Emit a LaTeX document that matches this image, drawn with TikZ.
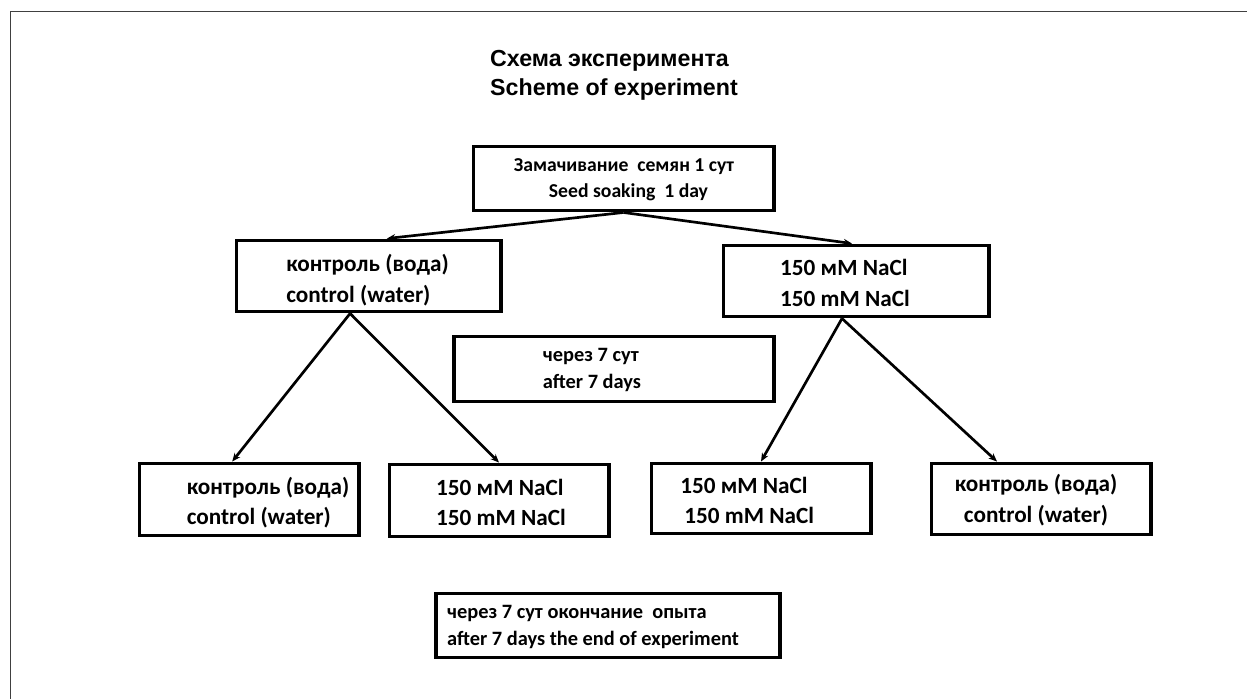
\documentclass[tikz,border=0pt]{standalone}
\usepackage{fontspec}
\setmainfont{Carlito}
\newfontfamily\headfont{Liberation Sans}
\usetikzlibrary{arrows.meta}

\begin{document}
\begin{tikzpicture}[x=0.025cm, y=-0.025cm,
	box/.style={draw, line width=2.8pt, inner sep=0pt},
	txt/.style={font=\bfseries\fontsize{16.5}{21.8}\selectfont, inner sep=0pt},
	note/.style={font=\bfseries\fontsize{14.5}{19.2}\selectfont, inner sep=0pt},
	link/.style={line width=1.9pt, -{Stealth[length=6pt, width=5pt]}}]
	\useasboundingbox (0,0) rectangle (1247,699);
	\draw[black!75, line width=1.4pt] (10.5,699) -- (10.5,11.5) -- (1247,11.5);

	\node[font=\headfont\bfseries\fontsize{16.5}{20.6}\selectfont, align=left] (title) at (614,75) {Схема эксперимента\\Scheme of experiment};

	\node[box, minimum width=7.5cm, minimum height=1.6cm] (soak) at (623.5,178.5) {};
	\node[box, minimum width=6.6cm, minimum height=1.775cm] (ctrl) at (368.5,276) {};
	\node[box, minimum width=6.625cm, minimum height=1.775cm] (nacl) at (856,281) {};
	\node[box, minimum width=7.975cm, minimum height=1.625cm] (wait) at (614,369) {};
	\node[box, minimum width=5.475cm, minimum height=1.8cm] (ctrlA) at (249,499.5) {};
	\node[box, minimum width=5.475cm, minimum height=1.8cm] (naclA) at (499,500.5) {};
	\node[box, minimum width=5.475cm, minimum height=1.75cm] (naclB) at (761,498.5) {};
	\node[box, minimum width=5.475cm, minimum height=1.775cm] (ctrlB) at (1041,499) {};
	\node[box, minimum width=8.575cm, minimum height=1.6cm] (finish) at (608,625.5) {};

	\node[note, font=\bfseries\fontsize{14}{18.8}\selectfont, align=center] (soaktext) at (624,179.5) {Замачивание\ \ семян 1 сут\\\ \ Seed soaking\ \ 1 day};
	\node[txt, align=left] (ctrltext) at (367.5,280) {контроль (вода)\\control (water)};
	\node[txt, align=left] (nacltext) at (845,283) {150 мМ NaCl\\150 mM NaCl};
	\node[note, align=left] (waittext) at (592,369.5) {через 7 сут\\after 7 days};
	\node[txt, align=left] (ctrlAtext) at (268,502.5) {контроль (вода)\\control (water)};
	\node[txt, align=left] (naclAtext) at (501,502.5) {150 мМ NaCl\\150 mM NaCl};
	\node[txt, align=center] (naclBtext) at (744,500.5) {150 мМ NaCl\\\ \ 150 mM NaCl};
	\node[txt, align=center] (ctrlBtext) at (1036,500) {контроль (вода)\\control (water)};
	\node[note, align=left] (finishtext) at (593,627) {через 7 сут окончание\ \ опыта\\after 7 days the end of experiment};

	\draw[link] (soak.south) -- ([xshift=0.46cm]ctrl.north);
	\draw[link] (soak.south) -- ([xshift=-0.1cm]nacl.north);
	\draw[link] ([xshift=-0.46cm]ctrl.south) -- ([xshift=-0.42cm]ctrlA.north);
	\draw[link] ([xshift=-0.46cm]ctrl.south) -- (naclA.north);
	\draw[link] ([xshift=-0.35cm]nacl.south) -- (naclB.north);
	\draw[link] ([xshift=-0.35cm]nacl.south) -- ([xshift=-1.1cm]ctrlB.north);
\end{tikzpicture}
\end{document}
